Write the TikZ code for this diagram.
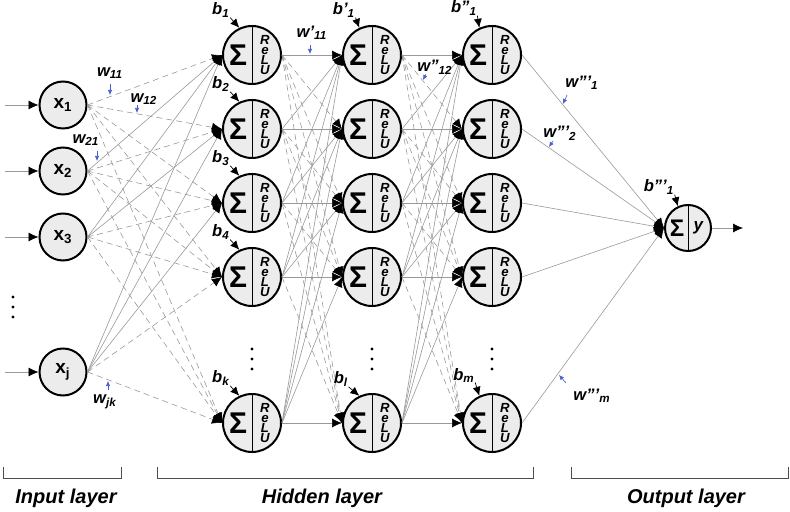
\documentclass[tikz,border=0pt]{standalone}
\usepackage{fontspec}
\setmainfont{Liberation Sans}
\usetikzlibrary{arrows.meta,calc}
\definecolor{wblue}{RGB}{70,95,205}

\tikzset{
  neuron/.style={circle,draw,line width=1pt,fill=gray!15,minimum size=29pt,inner sep=0pt},
  inp/.style={neuron,minimum size=23.5pt,font=\fontsize{9.5}{9.5}\selectfont\bfseries},
  sigma/.style={inner sep=0pt,font=\fontsize{15}{15}\selectfont\bfseries},
  relu/.style={inner sep=0pt,align=center,font=\fontsize{6.6}{5.1}\selectfont\bfseries\itshape},
  link/.style={gray!80,line width=0.3pt,-{Latex[length=5pt,width=4.5pt,color=black]}},
  dlink/.style={link,densely dashed},
  bias/.style={line width=0.35pt,-{Latex[length=4.5pt,width=4pt]}},
  wlab/.style={inner sep=0pt,font=\fontsize{8.3}{9}\selectfont\bfseries\itshape},
  wtip/.style={wblue,line width=0.3pt,-{Latex[length=2.5pt,width=2.2pt]}},
  dot/.style={circle,fill,inner sep=0pt,minimum size=1.7pt},
  brace/.style={gray!60!black,line width=0.5pt},
  layer/.style={font=\fontsize{10}{12}\selectfont\bfseries\itshape}
}

\begin{document}
\begin{tikzpicture}[x=0.5pt,y=-0.5pt]
  \useasboundingbox (0,0) rectangle (790,512);

  % input layer
  \foreach \i/\y/\t in {1/105/1,2/171/2,3/237/3,4/372/j} {
    \node[inp] (x\i) at (63,\y) {x\textsubscript{\t}};
    \coordinate (in\i) at (5,\y);
    \draw[link] (in\i) -- (x\i.west);
  }
  \foreach \k/\y in {1/297,2/307,3/317} \node[dot] (xd\k) at (13,\y) {};

  % hidden layers
  \foreach \c/\cx in {1/252,2/372,3/492} {
    \foreach \r/\y in {1/55,2/129,3/203,4/277,5/423} {
      \node[neuron] (h\c\r) at (\cx,\y) {};
      \draw[line width=0.5pt] (h\c\r.north) -- (h\c\r.south);
      \node[sigma] (s\c\r) at ([xshift=-7pt]h\c\r.center) {Σ};
      \node[relu] (r\c\r) at ([xshift=6.5pt]h\c\r.center) {R\\e\\L\\U};
    }
    \foreach \k/\y in {1/349,2/359,3/369} \node[dot] (hd\c\k) at (\cx,\y) {};
  }

  % output layer
  \node[neuron,minimum size=23pt] (o) at (688,228) {};
  \draw[line width=0.5pt] (o.north) -- (o.south);
  \node[sigma,font=\fontsize{12}{12}\selectfont\bfseries] (os) at ([xshift=-5.5pt]o.center) {Σ};
  \node[inner sep=0pt,font=\fontsize{8.5}{8.5}\selectfont\bfseries\itshape] (oy) at ([xshift=5.2pt]o.center) {y};
  \coordinate (out) at (743,228);
  \draw[link] (o.east) -- (out);

  % connections
  \foreach \i in {1,...,4}
    \foreach \r in {1,...,5} {
      \ifnum\r<\i \def\ls{link}\else\def\ls{dlink}\fi
      \draw[\ls] (x\i.east) -- (h1\r.west);
    }
  \foreach \c/\n in {1/2,2/3}
    \foreach \i in {1,...,5}
      \foreach \r in {1,...,5} {
        \ifnum\r>\i \def\ls{dlink}\else\def\ls{link}\fi
        \draw[\ls] (h\c\i.east) -- (h\n\r.west);
      }
  \foreach \i in {1,...,5} \draw[link] (h3\i.east) -- (o.west);

  % biases
  \foreach \r/\t in {1/1,2/2,3/3,4/4,5/k} {
    \node[wlab] (b1\r) at ($(h1\r)+(-31,-45)$) {b\textsubscript{\t}};
    \draw[bias] (b1\r.south east) -- (h1\r.115);
  }
  \node[wlab] (b21) at ($(h21)+(-28,-45)$) {b'\textsubscript{1}};
  \node[wlab] (b25) at ($(h25)+(-31,-44)$) {b\textsubscript{l}};
  \node[wlab] (b31) at ($(h31)+(-28,-47)$) {b''\textsubscript{1}};
  \node[wlab] (b35) at ($(h35)+(-28,-48)$) {b\textsubscript{m}};
  \node[wlab] (bo) at ($(o)+(-29,-41)$) {b'''\textsubscript{1}};
  \foreach \b/\h in {b21/h21,b25/h25,b31/h31,b35/h35,bo/o}
    \draw[bias] (\b.south east) -- (\h.115);

  % weights
  \node[wlab] (w11) at (110,73) {w\textsubscript{11}};
  \node[wlab] (w12) at (144,99) {w\textsubscript{12}};
  \node[wlab] (w21) at (86,140) {w\textsubscript{21}};
  \node[wlab] (wjk) at (105,402) {w\textsubscript{jk}};
  \node[wlab] (wa11) at (312,33) {w'\textsubscript{11}};
  \node[wlab] (wb12) at (435,67) {w''\textsubscript{12}};
  \node[wlab] (wc1) at (582,83) {w'''\textsubscript{1}};
  \node[wlab] (wc2) at (560,133) {w'''\textsubscript{2}};
  \node[wlab] (wcm) at (592,396) {w'''\textsubscript{m}};
  \foreach \n/\ax/\ay/\bx/\by in {w11/110/84/110/95, w12/137/105/137/113,
      w21/97/151/97/161, wjk/108/390/108/381, wa11/310/45/310/54,
      wb12/426/74/423/80, wc1/567/95/563/104, wc2/553/141/549/147,
      wcm/566/383/559/375} {
    \coordinate (\n a) at (\ax,\ay);
    \coordinate (\n b) at (\bx,\by);
    \draw[wtip] (\n a) -- (\n b);
  }

  % layers
  \draw[brace] (3,467) -- (3,478) -- (121,478) -- (121,467);
  \draw[brace] (157,467) -- (157,478) -- (533,478) -- (533,467);
  \draw[brace] (571,467) -- (571,478) -- (788,478) -- (788,467);
  \node[layer] (lin) at (66,498) {Input layer};
  \node[layer] (lhid) at (322,498) {Hidden layer};
  \node[layer] (lout) at (686,498) {Output layer};
\end{tikzpicture}
\end{document}
